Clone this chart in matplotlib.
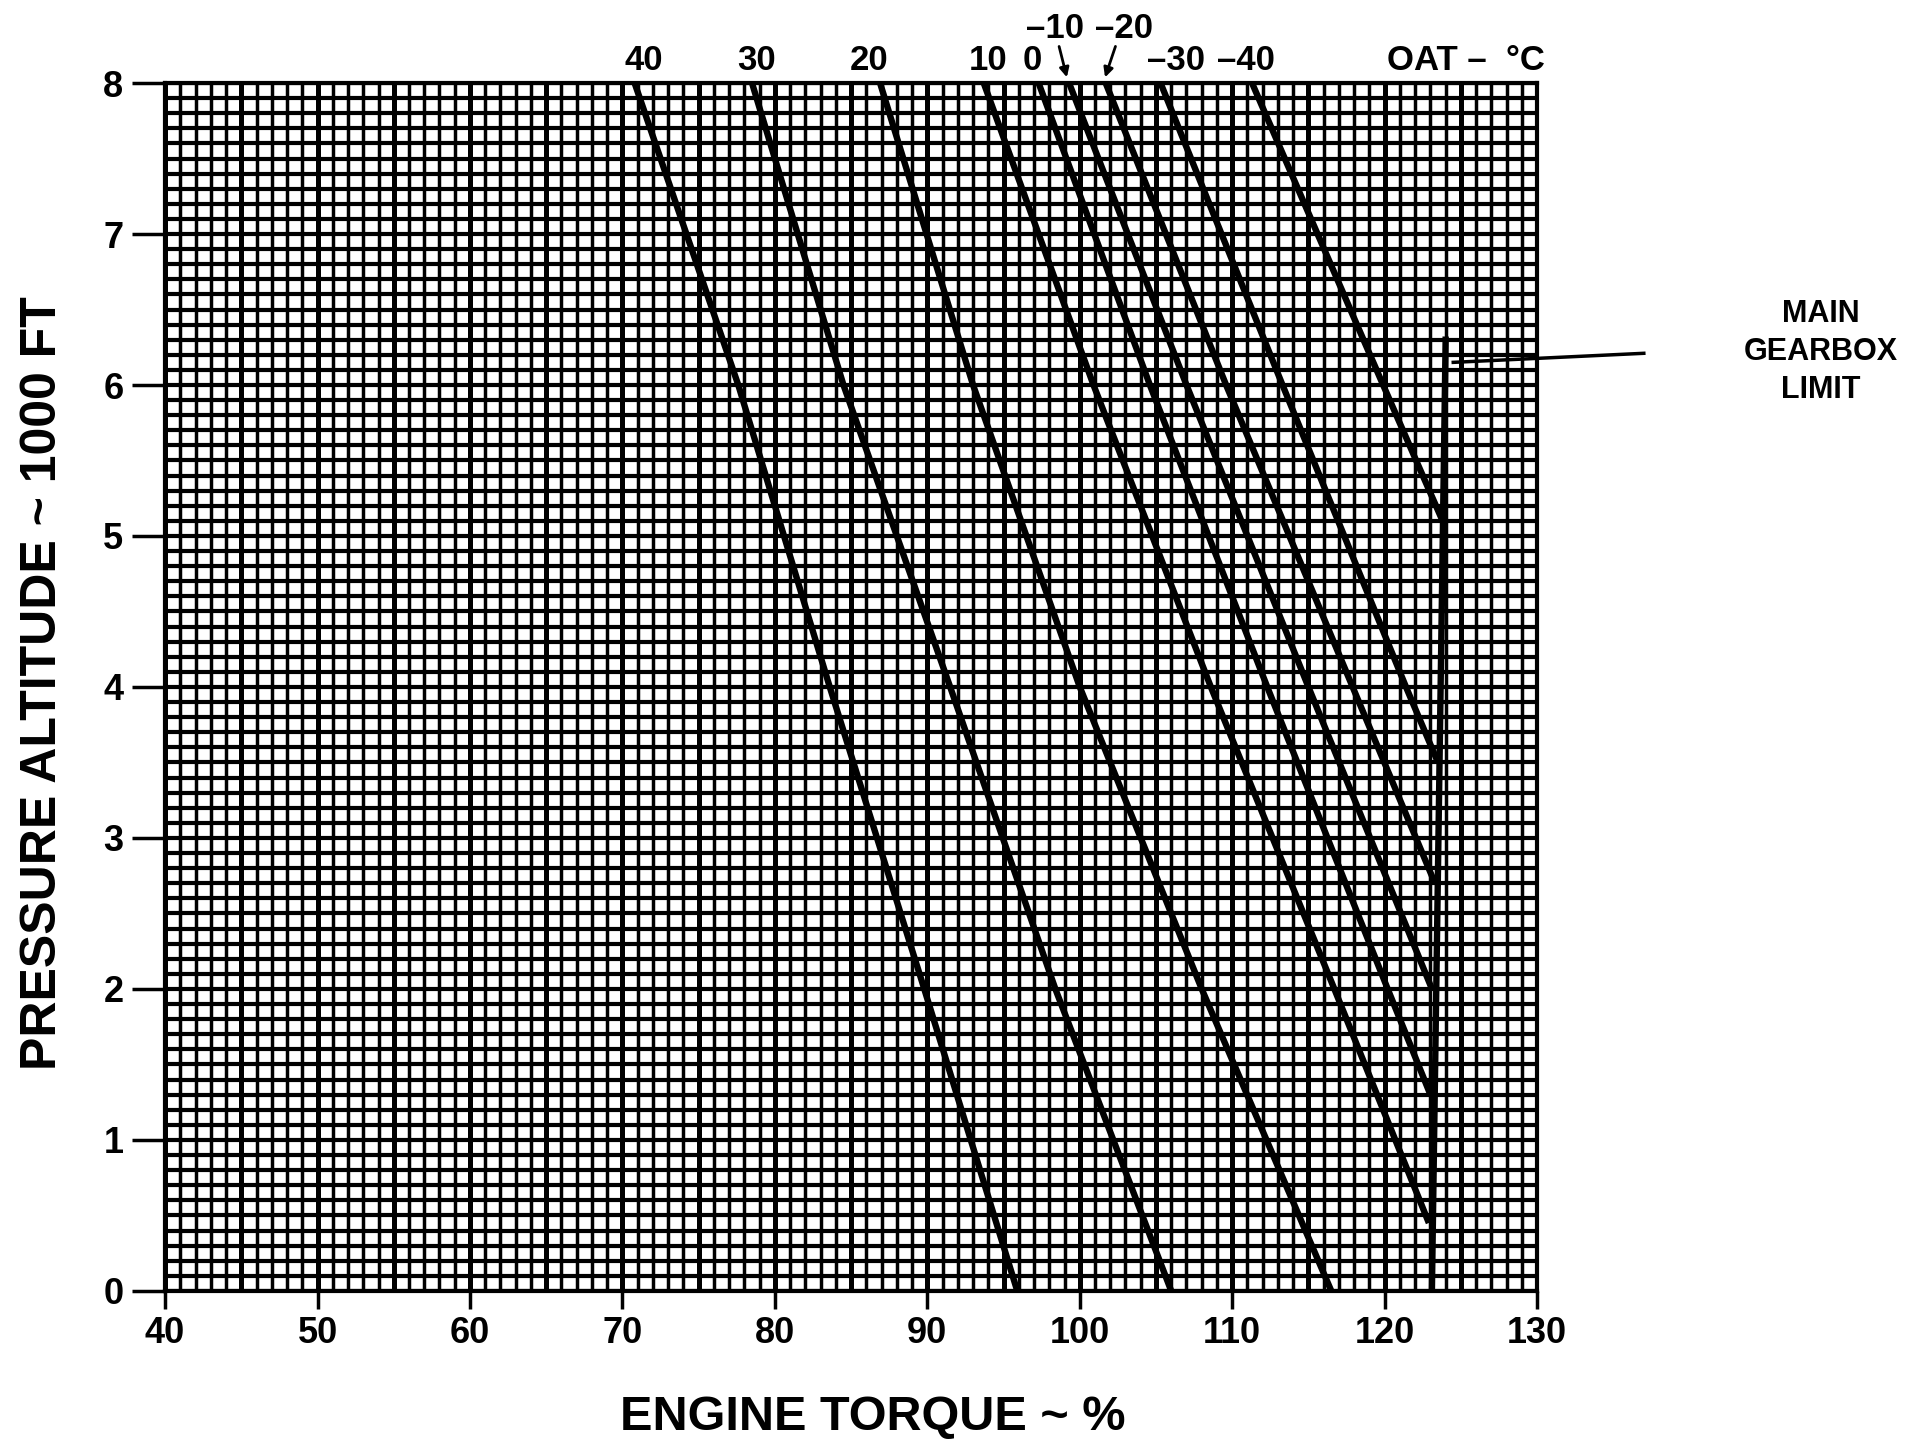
# Engine torque available vs pressure altitude for various OAT.
import numpy as np
import matplotlib
matplotlib.use('Agg')
import matplotlib.pyplot as plt
from matplotlib.ticker import MultipleLocator

plt.rcParams['font.family'] = ['Liberation Sans', 'DejaVu Sans']
plt.rcParams['font.weight'] = 'bold'

# OAT curves: (altitude in 1000 ft, engine torque %)
oat_labels = ['40', '30', '20', '10', '0', '\u201310', '\u201320', '\u201330', '\u201340']
oat_alt = [
    [8, 6, 4, 2, 0],
    [8, 6, 4, 2, 0],
    [8, 6, 4, 2, 0],
    [8, 6, 4, 2, 0.45],
    [8, 6, 4, 2, 1.3],
    [8, 6, 4, 2.0],
    [8, 6, 4, 2.7],
    [8, 6, 4, 3.5],
    [8, 6, 5.1],
]
oat_torque = [
    [70.8, 77.6, 83.6, 89.8, 95.9],
    [78.5, 84.5, 91.5, 98.4, 106.0],
    [86.9, 93.0, 100.0, 108.0, 116.5],
    [93.7, 100.9, 108.6, 116.7, 122.9],
    [97.3, 104.6, 112.3, 120.2, 123.0],
    [99.3, 107.0, 115.0, 123.1],
    [101.7, 109.6, 117.9, 123.3],
    [105.3, 113.3, 121.4, 123.5],
    [111.3, 119.9, 123.8],
]
# where each OAT label sits above the chart (torque %, altitude)
label_x = [71.4, 78.8, 86.2, 94.0, 96.9, 98.4, 102.9, 106.3, 110.9]
label_y = [8.15, 8.15, 8.15, 8.15, 8.15, 8.36, 8.36, 8.15, 8.15]

# main gearbox limit line
limit_torque = [124.0, 123.1]
limit_alt = [6.3, 0.0]

x_ticks = [40, 50, 60, 70, 80, 90, 100, 110, 120, 130]
y_ticks = [0, 1, 2, 3, 4, 5, 6, 7, 8]

fig = plt.figure(figsize=(19.13, 14.39), dpi=100)
ax = fig.add_axes([0.0863, 0.1029, 0.7172, 0.8394])

# dense chart-paper grid
ax.xaxis.set_minor_locator(MultipleLocator(1))
ax.yaxis.set_minor_locator(MultipleLocator(0.1))
ax.grid(which='both', axis='y', color='black', linewidth=3.0)
ax.grid(which='both', axis='x', color='black', linewidth=2.5)
for v in np.arange(40, 131, 5):
    ax.axvline(v, color='black', linewidth=3.6, zorder=1)
ax.set_axisbelow(True)

for alt, tq in zip(oat_alt, oat_torque):
    ax.plot(tq, alt, color='black', linewidth=4.6, zorder=3, solid_capstyle='butt')
ax.plot(limit_torque, limit_alt, color='black', linewidth=4.6, zorder=3)

ax.set_xlim(40, 130)
ax.set_ylim(0, 8)
ax.set_xticks(x_ticks)
ax.set_yticks(y_ticks)
ax.tick_params(axis='x', which='major', length=13, width=2.5, pad=5, labelsize=26)
ax.tick_params(axis='y', which='major', length=24, width=2.5, pad=6, labelsize=26)
ax.tick_params(which='minor', length=0)
for s in ax.spines.values():
    s.set_linewidth(3)

# OAT labels on top
for lab, lx, ly in zip(oat_labels, label_x, label_y):
    ax.text(lx, ly, lab, ha='center', va='center', fontsize=25,
            fontweight='bold', clip_on=False)
ax.text(125.3, 8.15, 'OAT \u2013  \u00b0C', ha='center', va='center',
        fontsize=25, fontweight='bold', clip_on=False)
ax.annotate('', xy=(99.2, 8.02), xytext=(98.6, 8.26), annotation_clip=False,
            arrowprops=dict(arrowstyle='-|>', color='black', lw=2, mutation_scale=14))
ax.annotate('', xy=(101.6, 8.02), xytext=(102.4, 8.26), annotation_clip=False,
            arrowprops=dict(arrowstyle='-|>', color='black', lw=2, mutation_scale=14))

# gearbox limit callout
ax.plot([124.5, 137.0], [6.15, 6.21], color='black', linewidth=2.5, clip_on=False)
ax.text(148.6, 6.22, 'MAIN\nGEARBOX\nLIMIT', ha='center', va='center',
        fontsize=22, fontweight='bold', linespacing=1.35, clip_on=False)

fig.text(0.456, 0.0146, 'ENGINE TORQUE ~ %', ha='center', va='center',
         fontsize=35, fontweight='bold')
fig.text(0.0225, 0.525, 'PRESSURE ALTITUDE ~ 1000 FT', ha='center', va='center',
         rotation=90, fontsize=36, fontweight='bold')

fig.savefig('out.png', dpi=100, facecolor='white')
